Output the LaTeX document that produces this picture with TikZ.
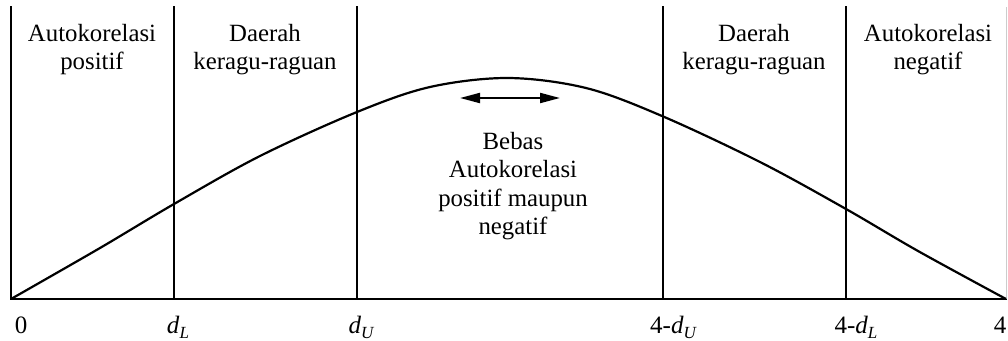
\documentclass[tikz,border=0pt]{standalone}
\usepackage{fontspec}
\setmainfont{Liberation Serif}
\usetikzlibrary{arrows.meta}
\newcommand{\sub}[1]{\raisebox{-0.2em}{\fontsize{17}{17}\selectfont\itshape #1}}
\begin{document}
\begin{tikzpicture}[x=1pt,y=-1pt,
  thickline/.style={line width=2.2pt, line cap=rect},
  regionlabel/.style={align=center, font=\fontsize{24.8}{28.5}\selectfont, inner sep=0pt, anchor=base},
  axislabel/.style={font=\fontsize{25}{28}\selectfont, inner sep=0pt, anchor=base}]
\useasboundingbox (0,0) rectangle (1008,340);
% axis coordinates
\coordinate (o) at (11,299);
\coordinate (e) at (1006,299);
\coordinate (dLb) at (174,299); \coordinate (dLt) at (174,7);
\coordinate (dUb) at (357,299); \coordinate (dUt) at (357,7);
\coordinate (rUb) at (663,299); \coordinate (rUt) at (663,7);
\coordinate (rLb) at (846,299); \coordinate (rLt) at (846,7);
\coordinate (ot) at (11,7);
\coordinate (et) at (1006,7);
% lines
\draw[thickline] (ot) -- (o) -- (e);
\draw[thickline] (dLt) -- (dLb);
\draw[thickline] (dUt) -- (dUb);
\draw[thickline] (rUt) -- (rUb);
\draw[thickline] (rLt) -- (rLb);
\draw[gray!40, line width=0.8pt] (et) -- (e);
% curve
\draw[line width=2.2pt] plot[smooth, tension=0.55] coordinates
  {(11,299) (100,248) (174,204) (260,156) (357,112) (430,87) (508,78) (586,88) (662,116) (760,162) (846,209) (918,251) (1006,299)};
% arrow
\coordinate (al) at (460,98);
\coordinate (ar) at (560,98);
\draw[line width=2pt, {Triangle[length=20pt,width=10pt]}-{Triangle[length=20pt,width=10pt]}] (al) -- (ar);
% region labels (anchor = baseline of last line)
\node[regionlabel] (t1) at (92,69.5) {Autokorelasi\\positif};
\node[regionlabel] (t2) at (265,69.5) {Daerah\\keragu-raguan};
\node[regionlabel] (t3) at (754,69.5) {Daerah\\keragu-raguan};
\node[regionlabel] (t4) at (928,69.5) {Autokorelasi\\negatif};
\node[regionlabel] (tm) at (513,234.5) {Bebas\\Autokorelasi\\positif maupun\\negatif};
% axis labels
\node[axislabel] (l0) at (21,333) {0};
\node[axislabel] (l1) at (178,333) {\textit{d}\sub{L}};
\node[axislabel] (l2) at (361,333) {\textit{d}\sub{U}};
\node[axislabel] (l3) at (673,333) {4-\textit{d}\sub{U}};
\node[axislabel] (l4) at (856,333) {4-\textit{d}\sub{L}};
\node[axislabel] (l5) at (1000,333) {4};
\end{tikzpicture}
\end{document}
